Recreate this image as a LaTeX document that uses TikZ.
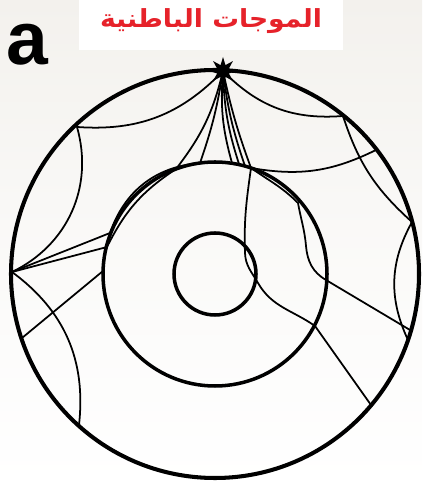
\documentclass[tikz,border=0pt]{standalone}
\usepackage{fontspec}
\setmainfont{Liberation Sans}
\newfontfamily\arabicfont[Script=Arabic]{DejaVu Sans}
\TeXXeTstate=1
\usetikzlibrary{shapes.geometric}
\definecolor{titlered}{RGB}{230,34,42}
\definecolor{paper}{RGB}{243,241,237}

\begin{document}
\begin{tikzpicture}[x=0.02cm, y=0.02cm,
  shell/.style={line width=2.3pt},
  core/.style={line width=2pt},
  ray/.style={line width=1pt}]

\shade[top color=paper, bottom color=white, middle color=white!60!paper]
  (0,0) rectangle (422,486);
\useasboundingbox (0,0) rectangle (422,486);
\fill[white] (79,436) rectangle (343,486);
\node[text=titlered, inner sep=0] (title) at (211,465)
  {\resizebox*{4.44cm}{0.5cm}{\arabicfont\bfseries\beginR الموجات الباطنية\endR}};
\node[font=\fontsize{42.7}{44}\selectfont\bfseries, inner sep=0] (label) at (27,441) {a};

% earth, outer core, inner core
\coordinate (O) at (215,212);
\draw[shell] (O) circle[radius=204];
\draw[core] (O) circle[radius=112];
\draw[core] (O) circle[radius=41];

% points on the surface
\coordinate (A) at (77,359);
\coordinate (B) at (12,214);
\coordinate (C) at (79,61);
\coordinate (D) at (22,148);
\coordinate (R1) at (343,370);
\coordinate (R2) at (412,264);
\coordinate (R3) at (408,146);
\coordinate (K) at (376,336);
\coordinate (M) at (410,156);
\coordinate (N) at (371,81);
% points on the core
\coordinate (P) at (251,318);
\coordinate (T1) at (232,323);
\coordinate (T2) at (239,322);
\coordinate (T3) at (245,320);
\coordinate (Q1) at (176,317);
\coordinate (Q2) at (200,323);
\coordinate (E) at (110,253);
\coordinate (G) at (107,239);
\coordinate (F) at (103,215);
\coordinate (X) at (326,206);
\coordinate (Y) at (315,160);
% bends inside the core
\coordinate (k1) at (245,233);
\coordinate (k2) at (258,203);
\coordinate (g1) at (298,283);
\coordinate (g2) at (306,240);

\node[star, star points=8, star point ratio=2.2, fill=black, inner sep=0,
  minimum size=0.56cm] (src) at (223,415) {};

% reflected at the surface
\draw[ray] (src.center) to[bend left=25] (A) to[bend left=40] (B) to[bend left=30] (C);
\draw[ray] (src.center) to[bend right=25] (R1) to[bend right=15] (R2) to[bend right=27] (R3);

% fan down to the core
\foreach \t/\b in {T1/10, T2/8, T3/6, P/4}
  \draw[ray] (src.center) to[bend right=\b] (\t);
\draw[ray] (P) to[bend right=18] (K);
\draw[ray] (P) to[out=-98,in=92] (k1) to[out=-88,in=120] (k2) to[out=-60,in=145] (Y) -- (N);
\draw[ray] (P) to[out=-35,in=135] (g1) to[out=-80,in=95] (g2) to[out=-85,in=150] (X) -- (M);

% grazing the core on the left
\draw[ray] (src.center) to[bend left=12] (Q1) to[bend right=15] (G) -- (B);
\draw[ray] (src.center) to[bend left=5] (Q2) to[bend right=33] (E) -- (B);
\draw[ray] (D) -- (F);
\end{tikzpicture}
\end{document}
